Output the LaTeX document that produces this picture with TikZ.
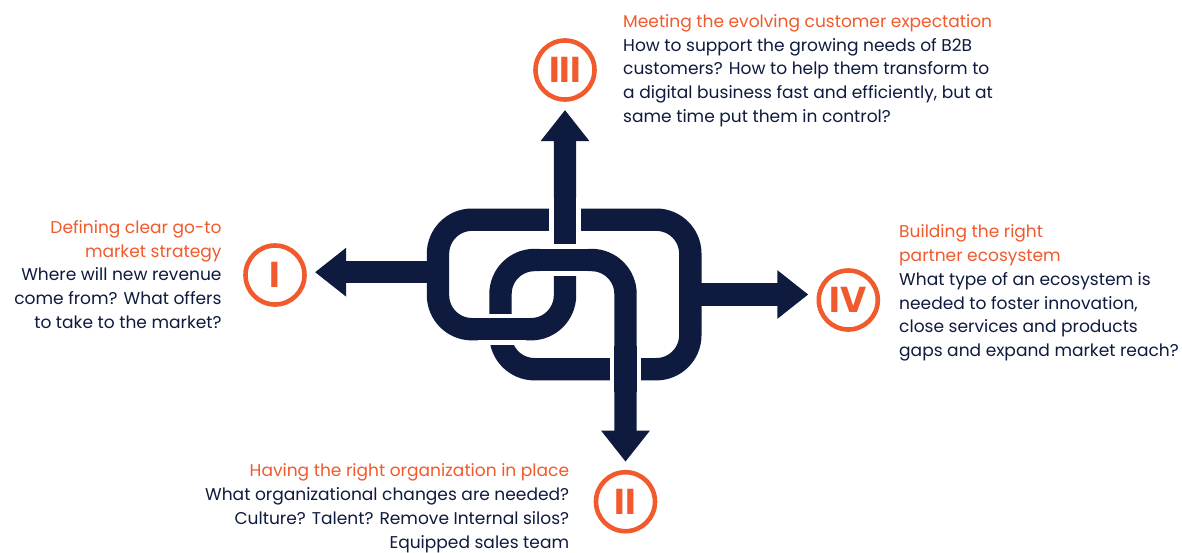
\documentclass[tikz,border=0pt]{standalone}
\usepackage{fontspec}
\setmainfont{Poppins}
\usetikzlibrary{arrows.meta}
\definecolor{navy}{HTML}{0F1A3F}
\definecolor{flame}{HTML}{F15A2C}
\tikzset{
  strand/.style={draw=navy, line width=22.4pt, rounded corners=34pt},
  bridge/.style={draw=white, line width=4.5pt, double=navy, double distance=22.4pt},
  numring/.style={circle, draw=flame, line width=4.6pt, minimum size=59pt, inner sep=0pt, outer sep=10.5pt, text=flame, font=\fontsize{36}{36}\selectfont\bfseries},
  blurb/.style={inner sep=0pt, text=navy, font=\fontsize{17.05}{23.8}\selectfont}
}
\begin{document}
\begin{tikzpicture}[x=1pt, y=-1pt, >={Triangle[length=31pt, width=46.6pt]}]
\useasboundingbox[fill=white] (0,0) rectangle (1182,552);
\node[numring] (cIII) at (565,70) {III};
\node[numring] (cI) at (275,275) {I};
\node[numring] (cIV) at (848.3,300) {IV};
\node[numring] (cII) at (625.5,501.7) {II};
\coordinate (kW) at (438,272.2);
\coordinate (kE) at (690.3,294.5);
% the knot, one strand from III to II
\draw[strand, <->] (cIII.south) -- (565,329.2) -- (438,329.2) -- (438,219.7) -- (690.3,219.7) -- (690.3,369.2) -- (500.5,369.2) -- (500.5,260) -- (625.5,260) -- (cII.north);
\foreach \a/\b in {540/260, 478/329.2}
  \draw[bridge] (\a,\b) --++(48,0);
\foreach \a/\b in {565/198, 625.5/346}
  \draw[bridge] (\a,\b) --++(0,46);
\draw[strand, ->] (kW) -- (kW -| cI.east);
\draw[strand, ->] (kE) -- (kE -| cIV.west);
% base of a blurb = base of its last line
\node[blurb, anchor=base west, align=left] (tIII) at (623,122.5) {\textcolor{flame}{Meeting the evolving customer expectation}\\
  How to support the growing needs of B2B\\ customers? How to help them transform to\\
  a digital business fast and efficiently, but at\\ same time put them in control?};
\node[blurb, anchor=base east, align=right] (tI) at (221.7,328.5) {\textcolor{flame}{Defining clear go-to}\\ \textcolor{flame}{market strategy}\\
  Where will new revenue\\ come from? What offers\\ to take to the market?};
\node[blurb, anchor=base west, align=left] (tIV) at (899,356.7) {\textcolor{flame}{Building the right}\\ \textcolor{flame}{partner ecosystem}\\
  What type of an ecosystem is\\ needed to foster innovation,\\ close services and products\\ gaps and expand market reach?};
\node[blurb, anchor=base east, align=right] (tII) at (569.3,548.3) {\textcolor{flame}{Having the right organization in place}\\
  What organizational changes are needed?\\ Culture? Talent? Remove Internal silos?\\ Equipped sales team};
\end{tikzpicture}
\end{document}
